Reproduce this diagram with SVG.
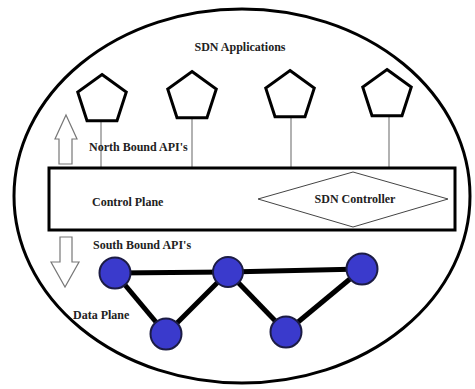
<svg xmlns="http://www.w3.org/2000/svg" width="475" height="389" viewBox="0 0 475 389" font-family="'Liberation Serif', 'DejaVu Serif', serif">
<style>
.t{font-family:'Liberation Serif','DejaVu Serif',serif;font-weight:bold;font-size:12px;fill:#222}
.pent{fill:#fff;stroke:#000;stroke-width:3;stroke-linejoin:miter}
.api{fill:#fff;stroke:#777;stroke-width:1.2}
.link{stroke:#999;stroke-width:1.5}
.edge{stroke:#000;stroke-width:5}
.sw{fill:#3a3acc;stroke:#1c1c44;stroke-width:2}
</style>
<defs>
<polygon id="pg" points="0,-25.5 24.25,-7.88 14.99,20.63 -14.99,20.63 -24.25,-7.88"/>
</defs>
<rect width="475" height="389" fill="#fff"/>
<g id="boundary">
<ellipse cx="242" cy="196" rx="228" ry="187" fill="#fff" stroke="#000" stroke-width="3"/>
<text class="t" x="240" y="51" text-anchor="middle" font-size="11.5">SDN Applications</text>
</g>
<g id="connectors">
<line class="link" x1="101" y1="121" x2="101" y2="167"/>
<line class="link" x1="192" y1="118" x2="192" y2="167"/>
<line class="link" x1="291" y1="117" x2="291" y2="167"/>
<line class="link" x1="389" y1="116" x2="389" y2="167"/>
<line class="edge" x1="115" y1="273" x2="228" y2="272"/>
<line class="edge" x1="228" y1="272" x2="362" y2="269"/>
<line class="edge" x1="115" y1="273" x2="166" y2="334"/>
<line class="edge" x1="166" y1="334" x2="228" y2="272"/>
<line class="edge" x1="228" y1="272" x2="286" y2="332"/>
<line class="edge" x1="286" y1="332" x2="362" y2="269"/>
</g>
<g id="app1"><use href="#pg" class="pent" transform="translate(102,100)"/></g>
<g id="app2"><use href="#pg" class="pent" transform="translate(192,97)"/></g>
<g id="app3"><use href="#pg" class="pent" transform="translate(290,96)"/></g>
<g id="app4"><use href="#pg" class="pent" transform="translate(387,95)"/></g>
<g id="northbound">
<polygon class="api" points="66,115 77,139 72,139 72,164 59,164 59,139 55,139"/>
<text class="t" x="89" y="151">North Bound API's</text>
</g>
<g id="control-plane">
<rect x="49" y="168" width="406" height="62" fill="#fff" stroke="#000" stroke-width="3"/>
<text class="t" x="92" y="206">Control Plane</text>
</g>
<g id="sdn-controller">
<polygon points="258,199 353,172 448,199 353,227" fill="#fff" stroke="#444" stroke-width="1"/>
<text class="t" x="355" y="203" text-anchor="middle">SDN Controller</text>
</g>
<g id="southbound">
<polygon class="api" points="60,237 72,237 72,262 79,262 65,287 51,262 60,262"/>
<text class="t" x="93" y="249">South Bound API's</text>
</g>
<g id="data-plane-label"><text class="t" x="73" y="319">Data Plane</text></g>
<g id="sw1"><circle class="sw" cx="115" cy="273" r="15.5"/></g>
<g id="sw2"><circle class="sw" cx="228" cy="272" r="15"/></g>
<g id="sw3"><circle class="sw" cx="362" cy="269" r="15.5"/></g>
<g id="sw4"><circle class="sw" cx="166" cy="334" r="15.5"/></g>
<g id="sw5"><circle class="sw" cx="286" cy="332" r="15.5"/></g>
</svg>
